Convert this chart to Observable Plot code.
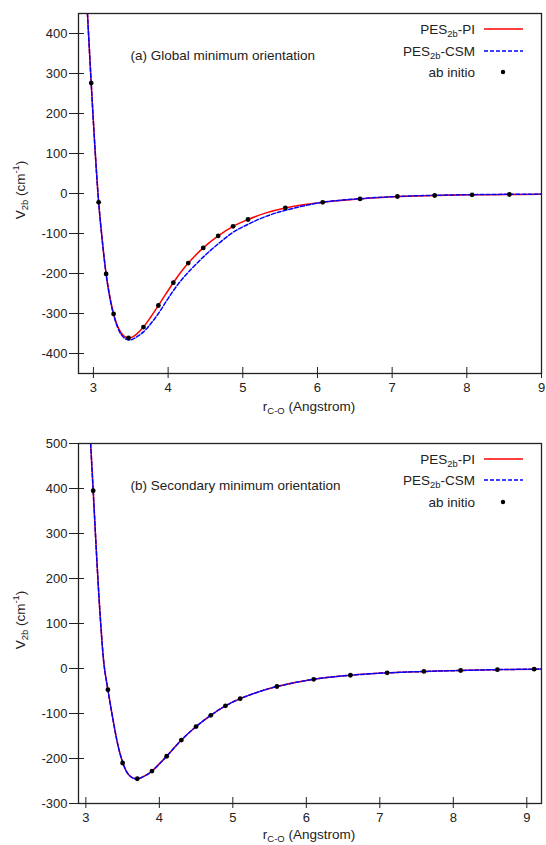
<!DOCTYPE html>
<html>
<head>
<meta charset="utf-8">
<script src="https://cdn.jsdelivr.net/npm/d3@7"></script>
<script src="https://cdn.jsdelivr.net/npm/@observablehq/plot@0.6"></script>
<style>
  html, body { margin: 0; padding: 0; background: #fff; }
  #chart { position: relative; width: 546px; height: 845px; font-family: "Liberation Sans", Arial, sans-serif; color: #222; }
  #chart svg { display: block; }
  .legend { position: absolute; left: 0; width: 546px; font-size: 13.5px; }
  .legend .row { position: absolute; right: 71px; white-space: nowrap; transform: translateY(-50%); text-align: right; }
  .legend svg.key { position: absolute; left: 483px; }
  .ylab { position: absolute; left: 20px; font-size: 13.5px; white-space: nowrap; transform: translate(-50%, -50%) rotate(-90deg); }
  .xlab { position: absolute; font-size: 13.5px; white-space: nowrap; transform: translate(-50%, -50%); }
  sub, sup { font-size: 70%; line-height: 0; }
</style>
</head>
<body>
<div id="chart"></div>
<script>
// (a) Global minimum orientation
const rTopAbInitio = [2.97, 3.07, 3.17, 3.27, 3.47, 3.67, 3.87, 4.07, 4.27, 4.47, 4.67, 4.87, 5.07, 5.57, 6.07, 6.57, 7.07, 7.57, 8.07, 8.57];
const vTopAbInitio = [276, -22, -201, -301, -361, -334, -280, -223, -174, -136, -106, -82, -65, -36, -22, -13.5, -7.5, -5, -3.3, -2.5];

const rTopPI = [2.92, 2.97, 3.02, 3.07, 3.12, 3.17, 3.22, 3.27, 3.32, 3.37, 3.42, 3.47, 3.52, 3.57, 3.67, 3.77, 3.87, 3.97, 4.07, 4.17, 4.27, 4.47, 4.67, 4.87, 5.07, 5.3, 5.57, 6.07, 6.57, 7.07, 7.57, 8.07, 8.57, 9.0];
const vTopPI = [450, 276, 115, -22, -120, -201, -258, -301, -330, -348, -358, -361, -359, -353, -334, -308, -280, -251, -223, -197, -174, -136, -106, -82, -65, -49, -36, -22, -13.5, -7.5, -5, -3.3, -2.5, -2];

const rTopCSM = [2.92, 2.97, 3.02, 3.07, 3.12, 3.17, 3.22, 3.27, 3.32, 3.37, 3.42, 3.47, 3.50, 3.54, 3.60, 3.67, 3.77, 3.87, 3.97, 4.07, 4.17, 4.27, 4.47, 4.67, 4.87, 5.07, 5.3, 5.57, 6.07, 6.57, 7.07, 7.57, 8.07, 8.57, 9.0];
const vTopCSM = [450, 276, 115, -22, -121, -202, -261, -303, -333, -352, -362, -366, -366, -363, -356, -346, -325, -300, -271, -243, -218, -197, -159, -126, -97, -77, -58, -42, -22, -13, -7.5, -4.5, -3, -2, -1.5];

// (b) Secondary minimum orientation
const rBotAbInitio = [3.1, 3.3, 3.5, 3.7, 3.9, 4.1, 4.3, 4.5, 4.7, 4.9, 5.1, 5.6, 6.1, 6.6, 7.1, 7.6, 8.1, 8.6, 9.1];
const vBotAbInitio = [395, -47, -210, -245, -228, -195, -159, -129, -104, -83, -67, -40, -24, -15, -9.6, -6.6, -4.4, -2.5, -1.5];

const rBotFit = [3.065, 3.1, 3.15, 3.2, 3.25, 3.3, 3.36, 3.42, 3.46, 3.5, 3.55, 3.6, 3.65, 3.7, 3.76, 3.82, 3.9, 4.0, 4.1, 4.3, 4.5, 4.7, 4.9, 5.1, 5.35, 5.6, 6.1, 6.6, 7.1, 7.6, 8.1, 8.6, 9.1, 9.2];
const vBotPI  = [500, 395, 240, 105, 5, -47, -105, -158, -186, -208, -228, -239, -244, -245, -242, -237, -228, -212, -195, -159, -129, -104, -83, -67, -52, -40, -24, -15, -9.6, -6.6, -4.4, -2.5, -1.5, -1.3];
const vBotCSM = [500, 395, 240, 105, 5, -47, -105, -158, -186, -208, -228, -239, -244, -245, -242, -237, -228, -212, -195, -159, -129, -104, -83, -67, -52, -40, -24, -15, -9.6, -6.6, -4.4, -2.5, -1.5, -1.3];

const xTicksTop = [3, 4, 5, 6, 7, 8, 9];
const yTicksTop = [-400, -300, -200, -100, 0, 100, 200, 300, 400];
const xTicksBot = [3, 4, 5, 6, 7, 8, 9];
const yTicksBot = [-300, -200, -100, 0, 100, 200, 300, 400, 500];

const toRows = (xs, ys) => xs.map((r, i) => ({r, v: ys[i]}));

const RED = "#ff0000", BLUE = "#0000ff";
const FONT = "Liberation Sans, Arial, sans-serif";
const plain = d => String(d);

function panel({height, marginBottom, xDomain, yDomain, xTicks, yTicks, pi, csm, pts, note}) {
  return Plot.plot({
    width: 546,
    height,
    marginTop: 13,
    marginBottom,
    marginLeft: 78,
    marginRight: 5,
    style: {fontFamily: FONT, fontSize: "13px", color: "#222", background: "white", overflow: "visible"},
    x: {domain: xDomain},
    y: {domain: yDomain},
    marks: [
      Plot.line(pi, {x: "r", y: "v", stroke: RED, strokeWidth: 1.5, curve: "catmull-rom", clip: true}),
      Plot.line(csm, {x: "r", y: "v", stroke: BLUE, strokeWidth: 1.5, strokeDasharray: "4,2", curve: "catmull-rom", clip: true}),
      Plot.dot(pts, {x: "r", y: "v", r: 2.4, fill: "black", stroke: null}),
      Plot.text([note], {frameAnchor: "top-left", dx: 52, dy: 37, textAnchor: "start", fontSize: 13.5, fill: "#222"}),
      Plot.axisX({ticks: xTicks, tickFormat: plain, tickSize: 11, dy: -6, tickPadding: 4, label: null, fontSize: 13}),
      Plot.axisY({ticks: yTicks, tickFormat: plain, tickSize: 15, dx: 6, tickPadding: 2, label: null, fontSize: 13}),
      Plot.frame({stroke: "#222", strokeWidth: 1.3})
    ]
  });
}

const chart = document.getElementById("chart");

chart.append(panel({
  height: 430, marginBottom: 57,
  xDomain: [2.8, 9], yDomain: [-450, 450],
  xTicks: xTicksTop, yTicks: yTicksTop,
  pi: toRows(rTopPI, vTopPI), csm: toRows(rTopCSM, vTopCSM),
  pts: toRows(rTopAbInitio, vTopAbInitio),
  note: "(a) Global minimum orientation"
}));

chart.append(panel({
  height: 415, marginBottom: 42,
  xDomain: [2.9, 9.2], yDomain: [-300, 500],
  xTicks: xTicksBot, yTicks: yTicksBot,
  pi: toRows(rBotFit, vBotPI), csm: toRows(rBotFit, vBotCSM),
  pts: toRows(rBotAbInitio, vBotAbInitio),
  note: "(b) Secondary minimum orientation"
}));

// Legend and axis titles (they need sub/superscripts)
function legend(top) {
  const el = document.createElement("div");
  el.className = "legend";
  el.style.top = top + "px";
  const rows = [
    {html: "PES<sub>2b</sub>-PI", key: `<line x1="1" x2="40" y1="5" y2="5" stroke="${RED}" stroke-width="1.5"/>`},
    {html: "PES<sub>2b</sub>-CSM", key: `<line x1="1" x2="40" y1="5" y2="5" stroke="${BLUE}" stroke-width="1.5" stroke-dasharray="4,2"/>`},
    {html: "ab initio", key: `<circle cx="20" cy="5" r="2.2" fill="black"/>`}
  ];
  rows.forEach((d, i) => {
    const y = i * 21.5;
    const t = document.createElement("div");
    t.className = "row";
    t.style.top = y + "px";
    t.innerHTML = d.html;
    el.append(t);
    const s = document.createElementNS("http://www.w3.org/2000/svg", "svg");
    s.setAttribute("class", "key");
    s.setAttribute("width", 42);
    s.setAttribute("height", 10);
    s.style.top = (y - 5) + "px";
    s.innerHTML = d.key;
    el.append(s);
  });
  chart.append(el);
}
legend(29);
legend(458.5);

function yLabel(cy) {
  const el = document.createElement("div");
  el.className = "ylab";
  el.style.top = cy + "px";
  el.innerHTML = "V<sub>2b</sub> (cm<sup>-1</sup>)";
  chart.append(el);
}
function xLabel(cy) {
  const el = document.createElement("div");
  el.className = "xlab";
  el.style.top = cy + "px";
  el.style.left = "309px";
  el.innerHTML = "r<sub>C-O</sub> (Angstrom)";
  chart.append(el);
}
yLabel(190);
yLabel(620);
xLabel(406);
xLabel(834);
</script>
</body>
</html>
